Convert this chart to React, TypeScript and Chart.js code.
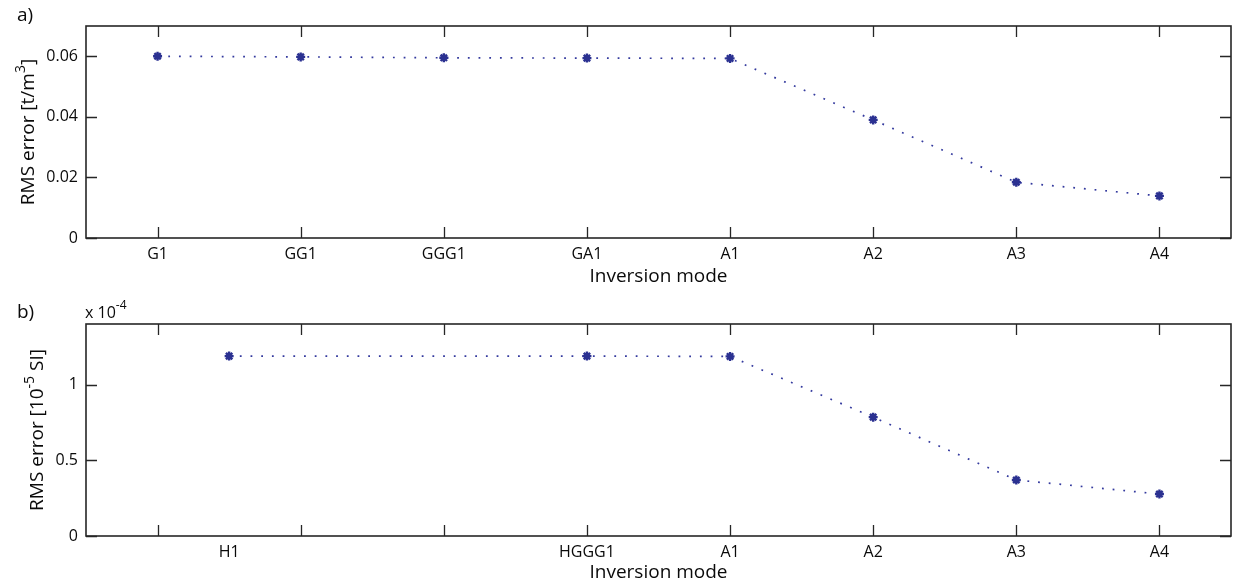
import React, { useEffect, useRef } from 'react';
import { Chart, registerables } from 'chart.js';

Chart.register(...registerables);

// Panel a: density inversion
const modesA = ['G1', 'GG1', 'GGG1', 'GA1', 'A1', 'A2', 'A3', 'A4'];
const positionsA = [1, 2, 3, 4, 5, 6, 7, 8];
const rmsDensity = [0.06, 0.0598, 0.0595, 0.0594, 0.0593, 0.039, 0.0184, 0.0139];
const yTicksA = [0, 0.02, 0.04, 0.06];
const yTickLabelsA = ['0', '0.02', '0.04', '0.06'];

// Panel b: susceptibility inversion
const modesB = ['H1', 'HGGG1', 'A1', 'A2', 'A3', 'A4'];
const positionsB = [1.5, 4, 5, 6, 7, 8];
const rmsSusceptibility = [1.188e-4, 1.188e-4, 1.186e-4, 0.785e-4, 0.37e-4, 0.277e-4];
const yTicksB = [0, 0.5e-4, 1e-4];
const yTickLabelsB = ['0', '0.5', '1'];

// Tick marks along the x axis (shared by both panels)
const xTickMarks = [1, 2, 3, 4, 5, 6, 7, 8];

const FONT = "'Open Sans', 'DejaVu Sans', sans-serif";
const INK = '#0a0a0a';
const MARKER = '#2b3191';
const LINE = '#343a9e';

type Part = { text: string; sup?: boolean };

interface PanelSpec {
  tag: string;
  labels: string[];
  xs: number[];
  ys: number[];
  yTicks: number[];
  yTickLabels: string[];
  yMax: number;
  yTitle: Part[];
  yTitleX: number;
  exponent?: Part[];
  padTop: number;
  xAxisHeight: number;
  xTitleBaseline: number;
  tagBaseline: number;
}

const W = 1245;
const H = 293;

function drawParts(ctx: CanvasRenderingContext2D, parts: Part[], size: number, supSize: number, rise: number, x: number, y: number, align: 'left' | 'center') {
  const widths = parts.map((p) => {
    ctx.font = `${p.sup ? supSize : size}px ${FONT}`;
    return ctx.measureText(p.text).width;
  });
  const total = widths.reduce((a, b) => a + b, 0);
  let cx = align === 'center' ? x - total / 2 : x;
  ctx.textAlign = 'left';
  ctx.textBaseline = 'alphabetic';
  parts.forEach((p, i) => {
    ctx.font = `${p.sup ? supSize : size}px ${FONT}`;
    ctx.fillText(p.text, cx, p.sup ? y - rise : y);
    cx += widths[i];
  });
}

function makeConfig(spec: PanelSpec): any {
  const framePlugin = {
    id: 'frameAndTicks',
    afterDatasetsDraw(chart: any) {
      const { ctx, chartArea: a, scales } = chart;
      ctx.save();
      ctx.strokeStyle = '#262626';
      ctx.lineWidth = 1.3;
      ctx.beginPath();
      for (const v of xTickMarks) {
        const px = Math.round(scales.x.getPixelForValue(v)) + 0.5;
        ctx.moveTo(px, a.bottom);
        ctx.lineTo(px, a.bottom - 11);
        ctx.moveTo(px, a.top);
        ctx.lineTo(px, a.top + 11);
      }
      for (const v of spec.yTicks) {
        const py = Math.round(scales.y.getPixelForValue(v)) + 0.5;
        ctx.moveTo(a.left, py);
        ctx.lineTo(a.left + 11, py);
        ctx.moveTo(a.right, py);
        ctx.lineTo(a.right - 11, py);
      }
      ctx.stroke();
      ctx.lineWidth = 1.6;
      ctx.strokeRect(a.left, a.top, a.right - a.left, a.bottom - a.top);
      ctx.restore();
    },
    afterDraw(chart: any) {
      const { ctx, chartArea: a } = chart;
      ctx.save();
      ctx.fillStyle = INK;
      // panel tag
      ctx.font = `19px ${FONT}`;
      ctx.textAlign = 'left';
      ctx.textBaseline = 'alphabetic';
      ctx.fillText(spec.tag, 17, spec.tagBaseline);
      // x axis title
      ctx.textAlign = 'center';
      ctx.fillText('Inversion mode', (a.left + a.right) / 2, spec.xTitleBaseline);
      // exponent marker above the y axis
      if (spec.exponent) {
        drawParts(ctx, spec.exponent, 16, 12, 9, a.left - 1, spec.tagBaseline, 'left');
      }
      // rotated y axis title
      ctx.translate(spec.yTitleX, (a.top + a.bottom) / 2);
      ctx.rotate(-Math.PI / 2);
      drawParts(ctx, spec.yTitle, 19, 14, 9, 0, 0, 'center');
      ctx.restore();
    },
  };

  return {
    type: 'line',
    data: {
      datasets: [
        {
          data: spec.xs.map((x, i) => ({ x, y: spec.ys[i] })),
          borderColor: LINE,
          borderWidth: 1.7,
          borderDash: [1.8, 8.9],
          tension: 0,
          fill: false,
          pointStyle: 'star',
          pointRadius: 4.5,
          pointBorderWidth: 2.4,
          pointBorderColor: MARKER,
          pointBackgroundColor: MARKER,
        },
      ],
    },
    options: {
      animation: false,
      responsive: false,
      maintainAspectRatio: false,
      layout: { padding: { left: 0, right: 14, top: spec.padTop, bottom: 0 } },
      plugins: { legend: { display: false }, tooltip: { enabled: false } },
      scales: {
        x: {
          type: 'linear',
          min: 0.5,
          max: 8.5,
          grid: { display: false, drawTicks: false },
          border: { display: false },
          afterBuildTicks: (s: any) => {
            s.ticks = spec.xs.map((v) => ({ value: v }));
          },
          afterFit: (s: any) => {
            s.height = spec.xAxisHeight;
          },
          ticks: {
            font: { family: FONT, size: 16 },
            color: INK,
            padding: 7,
            maxRotation: 0,
            autoSkip: false,
            callback: (_v: any, i: number) => spec.labels[i],
          },
        },
        y: {
          type: 'linear',
          min: 0,
          max: spec.yMax,
          grid: { display: false, drawTicks: false },
          border: { display: false },
          afterBuildTicks: (s: any) => {
            s.ticks = spec.yTicks.map((v) => ({ value: v }));
          },
          afterFit: (s: any) => {
            s.width = 86;
          },
          ticks: {
            font: { family: FONT, size: 16 },
            color: INK,
            padding: 8,
            autoSkip: false,
            callback: (_v: any, i: number) => spec.yTickLabels[i],
          },
        },
      },
    },
    plugins: [framePlugin],
  };
}

const panelA: PanelSpec = {
  tag: 'a)',
  labels: modesA,
  xs: positionsA,
  ys: rmsDensity,
  yTicks: yTicksA,
  yTickLabels: yTickLabelsA,
  yMax: 0.07,
  yTitle: [{ text: 'RMS error [t/m' }, { text: '3', sup: true }, { text: ']' }],
  yTitleX: 34,
  padTop: 26,
  xAxisHeight: 55,
  xTitleBaseline: 282,
  tagBaseline: 21,
};

const panelB: PanelSpec = {
  tag: 'b)',
  labels: modesB,
  xs: positionsB,
  ys: rmsSusceptibility,
  yTicks: yTicksB,
  yTickLabels: yTickLabelsB,
  yMax: 1.4e-4,
  yTitle: [{ text: 'RMS error [10' }, { text: '-5', sup: true }, { text: ' SI]' }],
  yTitleX: 43,
  exponent: [{ text: 'x 10' }, { text: '-4', sup: true }],
  padTop: 31,
  xAxisHeight: 50,
  xTitleBaseline: 285,
  tagBaseline: 25,
};

function Panel({ spec, top }: { spec: PanelSpec; top: number }) {
  const ref = useRef<HTMLCanvasElement>(null);
  useEffect(() => {
    if (!ref.current) return;
    const chart = new Chart(ref.current, makeConfig(spec));
    return () => chart.destroy();
  }, [spec]);
  return (
    <canvas
      ref={ref}
      width={W}
      height={H}
      style={{ position: 'absolute', left: 0, top, width: W, height: H }}
    />
  );
}

export default function App() {
  return (
    <div style={{ position: 'absolute', left: 0, top: 0, width: W, height: 586, background: '#fff' }}>
      <Panel spec={panelA} top={0} />
      <Panel spec={panelB} top={293} />
    </div>
  );
}
